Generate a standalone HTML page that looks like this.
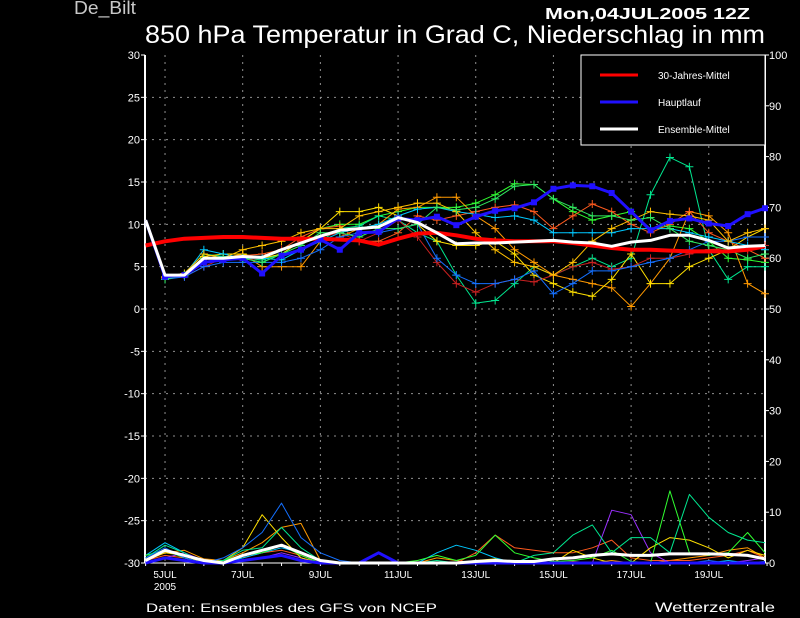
<!DOCTYPE html>
<html><head><meta charset="utf-8">
<style>
html,body{margin:0;padding:0;background:#000;}
svg{display:block;font-family:"Liberation Sans",sans-serif;}
</style></head>
<body>
<svg id="chart" width="800" height="618" viewBox="0 0 800 618">
<rect x="0" y="0" width="800" height="618" fill="#000"/>
<text x="74" y="14" fill="#c8c8c8" font-size="18" textLength="62" lengthAdjust="spacingAndGlyphs">De_Bilt</text>
<text x="545" y="19" fill="#fff" font-size="16" font-weight="bold" textLength="205" lengthAdjust="spacingAndGlyphs">Mon,04JUL2005 12Z</text>
<text x="145" y="43" fill="#fff" font-size="25" textLength="620" lengthAdjust="spacingAndGlyphs">850 hPa Temperatur in Grad C, Niederschlag in mm</text>
<text x="146" y="612" fill="#fff" font-size="12" textLength="291" lengthAdjust="spacingAndGlyphs">Daten: Ensembles des GFS von NCEP</text>
<text x="655" y="612" fill="#fff" font-size="14" textLength="120" lengthAdjust="spacingAndGlyphs">Wetterzentrale</text>
<g id="grid"></g>
<g id="axes"></g>
<g id="series"></g>
<g>
<rect x="581" y="55" width="184" height="90" fill="#000" stroke="#fff" stroke-width="1"/>
<line x1="600" y1="75" x2="638" y2="75" stroke="#ff0000" stroke-width="3"/>
<text x="658" y="79" fill="#fff" font-size="10">30-Jahres-Mittel</text>
<line x1="600" y1="102" x2="638" y2="102" stroke="#2010ff" stroke-width="3"/>
<text x="658" y="106" fill="#fff" font-size="10">Hauptlauf</text>
<line x1="600" y1="129" x2="638" y2="129" stroke="#ffffff" stroke-width="3"/>
<text x="658" y="133" fill="#fff" font-size="10">Ensemble-Mittel</text>
</g>
</svg>
<script>
const tempTicks=[30,25,20,15,10,5,0,-5,-10,-15,-20,-25,-30];
const precipTicks=[0,10,20,30,40,50,60,70,80,90,100];
const dayLabels=["5JUL","7JUL","9JUL","11JUL","13JUL","15JUL","17JUL","19JUL"];
const climate=[7.5,8.0,8.3,8.4,8.5,8.5,8.4,8.3,8.3,8.3,8.2,8.1,7.6,8.3,8.9,9.0,8.7,8.3,8.1,8.0,8.0,8.0,7.8,7.5,7.2,7.0,7.0,6.9,6.8,6.8,6.8,7.0,7.4];
const mainRun=[10.5,3.8,4.0,5.5,5.8,6.0,4.2,6.3,7.0,8.2,7.0,9.0,9.1,10.7,10.5,10.9,9.9,10.9,11.6,11.9,12.6,14.2,14.6,14.5,13.7,11.5,9.3,10.4,10.7,10.1,9.8,11.2,11.9];
const ensMean=[10.5,4.0,4.0,6.0,6.0,6.2,6.1,7.0,7.8,8.6,9.3,9.5,9.7,10.8,10.2,9.0,7.7,7.8,7.8,7.9,8.0,8.1,7.9,7.8,7.4,7.9,8.1,8.7,8.7,8.1,7.2,7.4,7.5];
const memA=[10.5,3.5,4,6,6.2,6,5.5,6.5,8,9.5,10,10,11,11.5,12,12,12,12.5,13.5,14.8,14.7,13,11.5,10.5,11,11.5,9.5,9.8,9.5,8,6,5.8,5.5];
const memB=[10.5,3.8,4.2,6.5,6.2,6,5.8,6.5,7,8,9.5,9.8,11,10.5,9,8,4,0.7,1.0,3,5,4,5,6,5,6,13.5,17.9,16.8,7,3.5,5,5];
const memC=[10.5,3.6,4,6,6,6.5,5,5,5,8,8.5,9.5,10,11.8,12,13.2,13.2,11,9.5,7,5.5,4,3.5,3,2.5,0.3,3,6,11.5,11,9,3,1.8];
const memD=[10.5,3.7,4,6.2,6.5,6.5,6,6.5,8,9.5,11.5,11.5,12,11,10,8,7.5,7.5,8,6.5,4,3,2,1.5,3.5,6.5,3,3.0,5,6,7,8.5,9.5];
const memE=[10.5,3.7,4,6,6,6.3,6.5,7,8.5,9.5,9.8,8,8,9,11,10.5,11,11.5,12,12.3,11.5,9.5,11,12.4,11.5,10,9,10,11.5,9,8,7,6];
const memF=[10.5,3.6,3.8,5,6,5.8,6,7,8,8.5,9,8,9,10.5,8.5,5.5,3,2,3,3.5,3.2,4,5,5.5,4.7,5,6,6,6.5,7,7.2,7,7.5];
const memG=[10.5,3.5,3.8,5,5.5,5.5,5.5,5.5,6,7,8.5,9,9,9.5,10,6,4,3,3,3.5,4.5,1.8,3,4.5,4.5,5,5.5,6,7,8,8,8.5,8.5];
const memH=[10.5,3.5,4,7,6.5,6,6,5.8,7,8,9,9.5,10,11,11.8,12,11.5,11.2,10.8,11,10.5,9,9,9,9,9.5,9.5,9.5,9,8.5,8,7.5,7];
const memI=[10.5,3.8,4.2,6.5,6,7,7.5,8,9,9.5,9.5,11,11.5,12,12.5,12.5,11.5,9,7,5.5,5,4,5.5,8,9.5,10.5,11.5,11.2,11,10.5,8,9,9.5];
const memJ=[10.5,3.5,4,6,6,6,5.5,6.5,7.5,9,9,8.5,9.5,9.5,10,12,11.7,12,13,14.5,14.7,13,12,11,11,10.5,10.8,9.5,8,7.5,7,6,6.5];
const prMean=[0.5,2.5,1.5,0.5,0,1.5,2.5,3.5,2.0,0.5,0,0,0,0,0,0,0,0.3,0.5,0.3,0.3,0.8,1.0,1.5,1.8,1.5,1.5,1.8,1.8,1.8,1.7,1.5,0.8];
const prMain=[0,1,0.5,0,0,0.5,1,1.5,0.5,0,0,0,2,0,0,0,0,0,0,0,0,0,0,0,0,0,0,0,0,0,0,0,0];
const prG=[1,3,1,0,1,3,6,11.8,5,2,0.5,0,0,0,0,0,0,0,0,0,0,0,0,0,0,0,0,0,0,0.5,0,0,0.3];
const prD=[0.5,2,1.5,0,0.5,3,9.5,5,1,0,0,0,0,0,0,0,0,0.5,0.8,0,0,0,2.5,1,0,0,3,5,4.5,3,1,2.5,1.5];
const prB=[1,3.5,2,0,0.5,2.5,3,7,3,0.5,0,0,0,0,0,0.5,0,0,0,0,1.5,2,5.5,7.5,2,5,5,2,13.5,9,6,4.5,4];
const prA=[1.5,2.5,1,0,0.5,1.5,2,3.5,1.5,0,0,0,0,0,0.5,1.5,0.5,1.5,5.5,2,1,0.3,0.5,1,2.5,0.3,0,14.2,2,1.5,2,6,2];
const prC=[0.5,2,2.5,0.8,0.5,2,4,7,7.8,0.5,0,0,0,0,0,1.0,0.5,0,0.5,0,0,0,0.3,0,0.5,0,0,0.5,1,1.5,2.5,3,1];
const prP=[0,1,2,0.5,0,0.5,1,2,1,0,0,0,0,0,0,0,0,0,0,0,0,0,0,0,10.4,9.5,2,0,0,0,0,0.5,1];
const prE=[0.5,1.5,1,0,0.5,1,2,2.5,1.5,0,0,0,0,0,0,0,0,2,5.5,3,2.5,2,2,3,4.5,1,0.5,0.5,0.5,1,1.5,2.5,1];
const prH=[1.5,4,2,0,0,1,2,3,2,0.5,0,0,0,0,0,2,3.5,2.5,1,0,0,0,0,0,0,0,0,0,0,0,0.5,0,0];

const NS="http://www.w3.org/2000/svg";
const L=145,R=765,T=55,B=563;
const xs=i=>145.6+19.42*i;
const yT=v=>309-v*(B-T)/60;
const yP=v=>B-v*(B-T)/100;
function mk(tag,attrs,parent){const e=document.createElementNS(NS,tag);for(const k in attrs)e.setAttribute(k,attrs[k]);parent.appendChild(e);return e;}
const grid=document.getElementById('grid'),axes=document.getElementById('axes'),ser=document.getElementById('series');

tempTicks.forEach(t=>{
 const y=yT(t);
 if(t!==30&&t!==-30){const g=mk('line',{x1:L,x2:R,y1:y,y2:y,stroke:'#909090','stroke-dasharray':'2,5'},grid);
 
 }
 mk('line',{x1:L-4,x2:L,y1:y,y2:y,stroke:'#fff'},axes);
 const tx=mk('text',{x:140,y:y+4,fill:'#fff','font-size':11,'text-anchor':'end'},axes);tx.textContent=t;
 
 
});
precipTicks.forEach(p=>{
 const y=yP(p);
 mk('line',{x1:R,x2:R+4,y1:y,y2:y,stroke:'#fff'},axes);
 const tx=mk('text',{x:769,y:y+4,fill:'#fff','font-size':11},axes);tx.textContent=p;
 
 
});
dayLabels.forEach((d,k)=>{
 const x=xs(1+4*k);
 const g=mk('line',{x1:x,x2:x,y1:T,y2:B,stroke:'#909090','stroke-dasharray':'2,5'},grid);
 
 
 const tx=mk('text',{x:x,y:578,fill:'#fff','font-size':10,'text-anchor':'middle'},axes);tx.textContent=d;
 
 
});
{const tx=mk('text',{x:165,y:590,fill:'#fff','font-size':10,'text-anchor':'middle'},axes);tx.textContent='2005';

}
for(let i=0;i<=32;i++){mk('line',{x1:xs(i),x2:xs(i),y1:B,y2:B+3,stroke:'#fff'},axes);}
const ax=mk('line',{x1:L,x2:L,y1:T,y2:B,stroke:'#fff','stroke-width':2},axes);

const ax2=mk('line',{x1:R,x2:R,y1:T,y2:B,stroke:'#fff','stroke-width':2},axes);

const ax3=mk('line',{x1:L,x2:R,y1:B,y2:B,stroke:'#fff','stroke-width':1},axes);


function path(arr,yf){return arr.map((v,i)=>(i?'L':'M')+Math.min(xs(i),R).toFixed(1)+','+yf(v).toFixed(1)).join(' ');}
function line(arr,yf,color,w,name,marker){
 const p=mk('path',{d:path(arr,yf),fill:'none',stroke:color,'stroke-width':w,'stroke-linejoin':'round'},ser);
 
 
 if(marker==='+'){
  arr.forEach((v,i)=>{if(i===0)return;const x=Math.min(xs(i),R),y=yf(v);
   mk('path',{d:`M${x-4},${y}H${x+4}M${x},${y-4}V${y+4}`,stroke:color,'stroke-width':1},ser);});
 } else if(marker==='sq'){
  arr.forEach((v,i)=>{if(i===0)return;const x=Math.min(xs(i),R),y=yf(v);
   mk('rect',{x:x-3,y:y-3,width:6,height:6,fill:color},ser);});
 }
}
line(prC,yP,'#ff9900',1,'precip-member-c');
line(prE,yP,'#ff5a1e',1,'precip-member-e');
line(prH,yP,'#00c8ff',1,'precip-member-h');
line(prP,yP,'#9b30ff',1,'precip-member-p');
line(prD,yP,'#ffe000',1,'precip-member-d');
line(prA,yP,'#30ff30',1,'precip-member-a');
line(prB,yP,'#00e890',1,'precip-member-b');
line(prG,yP,'#1470ff',1,'precip-member-g');
line(prMain,yP,'#2010ff',3,'precip-main-run');
line(prMean,yP,'#ffffff',3,'precip-ensemble-mean');
const mems=[[memA,'#30ff30'],[memB,'#00e890'],[memC,'#ff9900'],[memD,'#ffe000'],[memE,'#ff5a1e'],[memF,'#c82020'],[memG,'#1470ff'],[memH,'#00c8ff'],[memI,'#ffc000'],[memJ,'#30e860']];
mems.forEach((m,k)=>line(m[0],yT,m[1],1,'temp-member-'+k,'+'));
line(climate,yT,'#ff0000',4,'climate-mean-line');
line(mainRun,yT,'#2010ff',3,'main-run-line','sq');
line(ensMean,yT,'#ffffff',3,'ensemble-mean-line');
</script>
</body></html>
